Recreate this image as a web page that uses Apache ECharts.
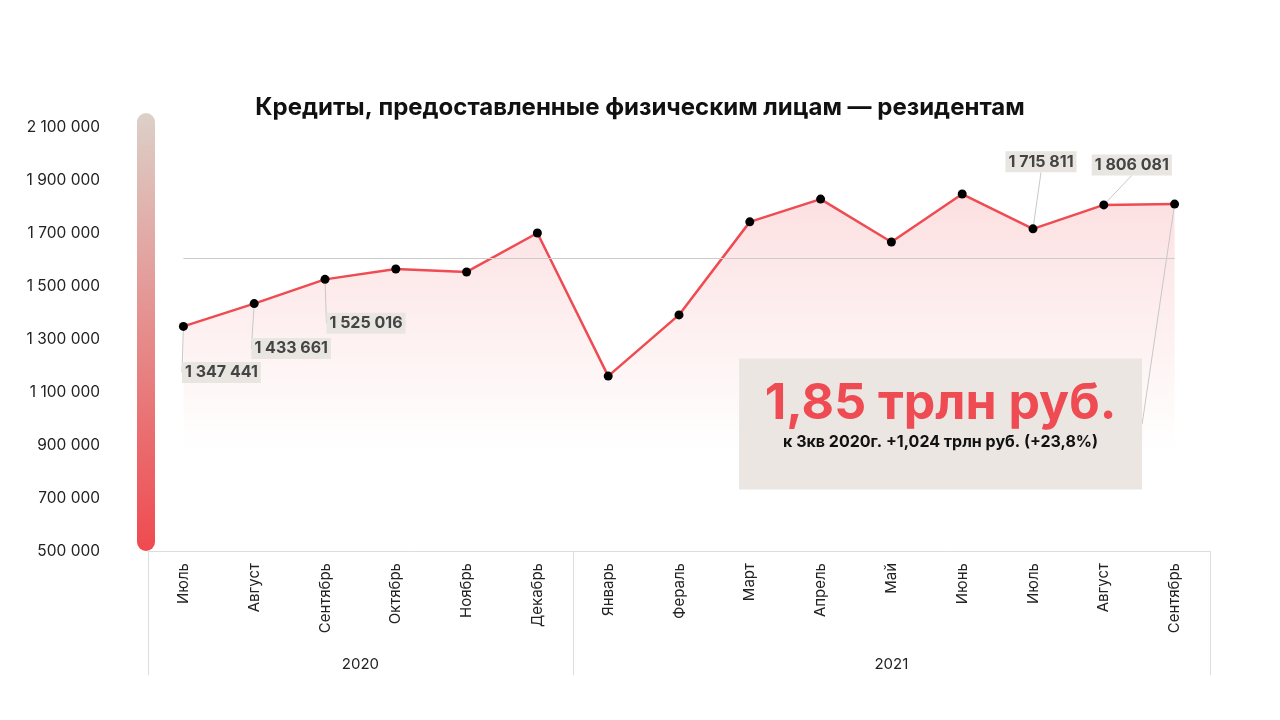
<!DOCTYPE html>
<html>
<head>
<meta charset="utf-8">
<script src="https://cdn.jsdelivr.net/npm/echarts@6/dist/echarts.min.js"></script>
<style>
  html, body { margin: 0; padding: 0; background: #fff; }
  #container { width: 1280px; height: 720px; }
</style>
</head>
<body>
<div id="container"></div>
<script>
var dom = document.getElementById('container');
var myChart = echarts.init(dom, null, { renderer: 'canvas' });

// months of the period (Jul 2020 - Sep 2021)
const months = ['Июль', 'Август', 'Сентябрь', 'Октябрь', 'Ноябрь', 'Декабрь',
    'Январь', 'Фераль', 'Март', 'Апрель', 'Май', 'Июнь', 'Июль', 'Август', 'Сентябрь'];
// loans to individuals, mln rub
const values = [1347441, 1433661, 1525016, 1564000, 1553000, 1700000,
    1160000, 1391000, 1742000, 1828000, 1666000, 1847000, 1715811, 1806081, 1809000];
const years = ['2020', '2021'];
const yearSpan = [6, 9]; // months in each year
const labelled = [0, 1, 2, 12, 13]; // points with value tags
const highlightTitle = '1,85 трлн руб.';
const highlightSub = 'к 3кв 2020г. +1,024 трлн руб. (+23,8%)';

const FONT = 'Inter, "Open Sans", sans-serif';
const RED = '#ee4b52';

function spaced(v) {
    return String(v).replace(/\B(?=(\d{3})+(?!\d))/g, ' ');
}

// half-month slots for the year axis: label in the middle of each year, ticks on the borders
let yearSlots = [];
let yearBorders = [0];
let pos = 0;
for (let i = 0; i < years.length; i++) {
    for (let k = 0; k < yearSpan[i] * 2; k++) {
        yearSlots.push(k === yearSpan[i] ? years[i] : '');
    }
    pos += yearSpan[i] * 2;
    yearBorders.push(pos);
}
yearSlots.push('');

let avg = values.reduce((a, b) => a + b, 0) / values.length;

// tag offsets from the point (px)
const tagOffset = {
    0: [38, 46], 1: [37, 45], 2: [41, 44], 12: [8, -67], 13: [28, -40], 14: [-234, 220]
};

let seriesData = values.map(function (v, i) {
    let item = { value: v };
    if (labelled.indexOf(i) >= 0) {
        item.label = { show: true };
    } else if (i === values.length - 1) {
        item.label = {
            show: true,
            formatter: '{big|' + highlightTitle + '}\n{sub|' + highlightSub + '}',
            backgroundColor: '#ebe6e2',
            width: 403,
            align: 'center',
            padding: [18, 0, 35, 0],
            rich: {
                big: { fontFamily: FONT, fontSize: 50, fontWeight: 'bold', color: RED, lineHeight: 54, align: 'center' },
                sub: { fontFamily: FONT, fontSize: 16, fontWeight: 'bold', color: '#111', lineHeight: 24, align: 'center' }
            }
        };
    }
    return item;
});

var option = {
    backgroundColor: '#fff',
    title: {
        left: 'center',
        top: 91,
        text: 'Кредиты, предоставленные физическим лицам — резидентам',
        textStyle: { fontFamily: FONT, fontSize: 24, fontWeight: 'bold', color: '#111' }
    },
    grid: { left: 148, right: 70, top: 127, bottom: 169 },
    graphic: [{
        type: 'rect',
        left: 137,
        top: 113,
        shape: { width: 18, height: 438, r: 9 },
        style: {
            fill: new echarts.graphic.LinearGradient(0, 0, 0, 1, [
                { offset: 0, color: '#dcd0c8' },
                { offset: 1, color: '#ef4a50' }
            ])
        },
        z: 10
    }],
    xAxis: [{
        type: 'category',
        data: months,
        boundaryGap: true,
        axisLine: { lineStyle: { color: '#dddddd' } },
        axisTick: { show: false },
        axisLabel: { rotate: 90, interval: 0, margin: 12, fontFamily: FONT, fontSize: 15, color: '#222' }
    }, {
        type: 'category',
        data: yearSlots,
        boundaryGap: false,
        position: 'bottom',
        axisLine: { show: false },
        axisTick: {
            show: true,
            length: 124,
            interval: function (index) { return yearBorders.indexOf(index) >= 0; },
            lineStyle: { color: '#dddddd' }
        },
        axisLabel: { interval: 0, margin: 106, fontFamily: FONT, fontSize: 15, color: '#222' }
    }],
    yAxis: {
        type: 'value',
        min: 500000,
        max: 2100000,
        interval: 200000,
        axisLine: { show: false },
        axisTick: { show: false },
        splitLine: { show: false },
        axisLabel: { margin: 48, fontFamily: FONT, fontSize: 15.5, color: '#222', formatter: spaced }
    },
    series: [{
        name: 'Кредиты',
        type: 'line',
        data: seriesData,
        symbol: 'circle',
        symbolSize: 9,
        itemStyle: { color: '#000' },
        lineStyle: { color: RED, width: 2.5 },
        areaStyle: {
            color: new echarts.graphic.LinearGradient(0, 0, 0, 1, [
                { offset: 0, color: 'rgba(238,75,82,0.25)' },
                { offset: 0.72, color: 'rgba(238,75,82,0)' }
            ])
        },
        label: {
            show: false,
            position: 'bottom',
            formatter: function (p) { return spaced(p.value); },
            fontFamily: FONT,
            fontSize: 16,
            fontWeight: 'bold',
            color: '#444',
            backgroundColor: '#e9e6e2',
            padding: [3, 3, 2, 3]
        },
        labelLine: { show: true, lineStyle: { color: '#c8c8c8', width: 1 } },
        labelLayout: function (p) {
            let off = tagOffset[p.dataIndex];
            if (!off) return {};
            return {
                x: p.rect.x + p.rect.width / 2 + off[0],
                y: p.rect.y + p.rect.height / 2 + off[1],
                align: 'center',
                verticalAlign: 'middle'
            };
        },
        markLine: {
            silent: true,
            symbol: 'none',
            label: { show: false },
            lineStyle: { color: '#cccccc', width: 1, type: 'solid' },
            data: [[{ coord: [0, avg] }, { coord: [values.length - 1, avg] }]]
        },
        z: 3
    }]
};

myChart.setOption(option);
window.addEventListener('resize', myChart.resize);
</script>
</body>
</html>
